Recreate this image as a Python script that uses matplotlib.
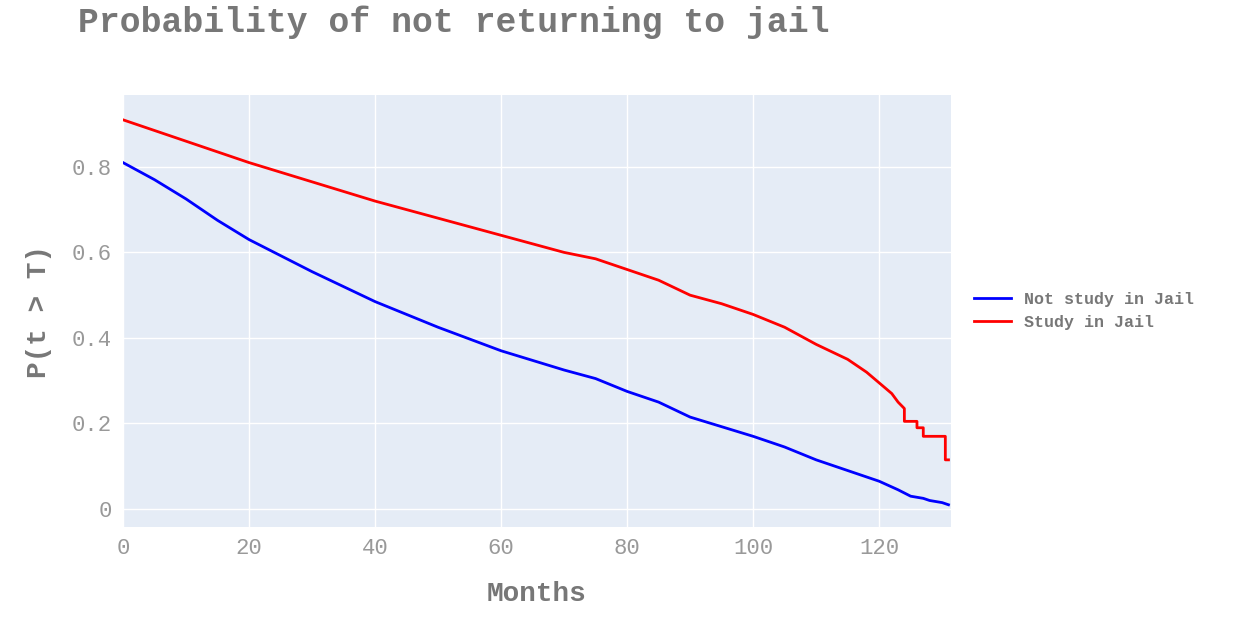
import matplotlib
matplotlib.use("Agg")
import matplotlib.pyplot as plt

months_blue = [0, 5, 10, 15, 20, 30, 40, 50, 60, 70, 75, 80, 85, 90, 100, 105, 110, 115, 120, 123, 125, 127, 128, 130, 131]
p_blue = [0.81, 0.77, 0.725, 0.675, 0.63, 0.555, 0.485, 0.425, 0.37, 0.325, 0.305, 0.275, 0.25, 0.215, 0.17, 0.145, 0.115, 0.09, 0.065, 0.045, 0.03, 0.025, 0.02, 0.015, 0.01]
months_red = [0, 10, 20, 30, 40, 50, 60, 70, 75, 80, 85, 90, 95, 100, 105, 110, 115, 118, 120, 122, 123, 124, 124, 126, 126, 127, 127, 128, 128, 130.5, 130.5, 131]
p_red = [0.91, 0.86, 0.81, 0.765, 0.72, 0.68, 0.64, 0.60, 0.585, 0.56, 0.535, 0.50, 0.48, 0.455, 0.425, 0.385, 0.35, 0.32, 0.295, 0.27, 0.25, 0.235, 0.205, 0.205, 0.19, 0.19, 0.17, 0.17, 0.17, 0.17, 0.115, 0.115]

font = "Liberation Mono"
fig = plt.figure(figsize=(12.33, 6.28), dpi=100)
ax = fig.add_axes([123/1233, 1-527/628, (951-123)/1233, (527-95)/628])
ax.set_facecolor("#e5ecf6")
ax.plot(months_blue, p_blue, color="blue", lw=2, label="Not study in Jail")
ax.plot(months_red, p_red, color="red", lw=2, label="Study in Jail")
ax.set_xlim(0, 131.4)
ax.set_ylim(-0.042, 0.968)
ax.set_xticks([0, 20, 40, 60, 80, 100, 120])
ax.set_yticks([0, 0.2, 0.4, 0.6, 0.8])
ax.set_yticklabels(["0", "0.2", "0.4", "0.6", "0.8"])
ax.grid(color="white", lw=1)
ax.set_axisbelow(True)
for s in ax.spines.values():
    s.set_visible(False)
ax.tick_params(length=0, labelsize=16, colors="#999999", pad=8)
for t in ax.get_xticklabels() + ax.get_yticklabels():
    t.set_fontfamily(font)
ax.set_xlabel("Months", fontfamily=font, fontsize=20, fontweight="bold", color="#777777", labelpad=16)
ax.set_ylabel("P(t > T)", fontfamily=font, fontsize=20, fontweight="bold", color="#777777", labelpad=14)
fig.text(78/1233, 1-22/628, "Probability of not returning to jail", fontfamily=font, fontsize=25,
         fontweight="bold", color="#777777", va="center", ha="left")
leg = ax.legend(loc="center left", bbox_to_anchor=(1.01, 0.5), frameon=False,
                prop={"family": font, "size": 12, "weight": "bold"}, handlelength=2.2)
for t in leg.get_texts():
    t.set_color("#777777")
fig.savefig("out.png", dpi=100)
